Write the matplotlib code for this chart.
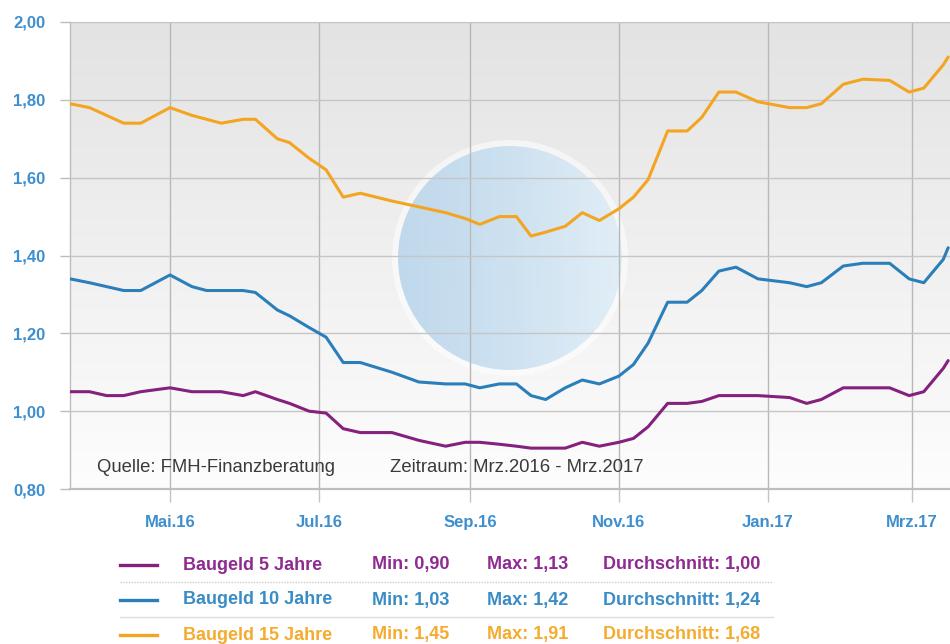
import matplotlib
matplotlib.use("Agg")
import matplotlib.pyplot as plt
import numpy as np
import pandas as pd
from matplotlib.patches import Ellipse
from matplotlib.lines import Line2D
from matplotlib.colors import LinearSegmentedColormap

# ---------------- data ----------------
dates = ["2016-03-21", "2016-03-29", "2016-04-05", "2016-04-12", "2016-04-19",
         "2016-05-01", "2016-05-10", "2016-05-16", "2016-05-22", "2016-05-31",
         "2016-06-05", "2016-06-14", "2016-06-19", "2016-06-27", "2016-07-04",
         "2016-07-11", "2016-07-18", "2016-07-31", "2016-08-11", "2016-08-22",
         "2016-08-30", "2016-09-05", "2016-09-13", "2016-09-20", "2016-09-26",
         "2016-10-02", "2016-10-10", "2016-10-17", "2016-10-24", "2016-11-01",
         "2016-11-07", "2016-11-13", "2016-11-21", "2016-11-29", "2016-12-05",
         "2016-12-12", "2016-12-19", "2016-12-28", "2017-01-10", "2017-01-17",
         "2017-01-23", "2017-02-01", "2017-02-09", "2017-02-20", "2017-02-28",
         "2017-03-06", "2017-03-14", "2017-03-16"]

baugeld_5 = [1.05, 1.05, 1.04, 1.04, 1.05, 1.06, 1.05, 1.05, 1.05, 1.04,
             1.05, 1.03, 1.02, 1.00, 0.995, 0.955, 0.945, 0.945, 0.925, 0.91,
             0.92, 0.92, 0.915, 0.91, 0.905, 0.905, 0.905, 0.92, 0.91, 0.92,
             0.93, 0.96, 1.02, 1.02, 1.025, 1.04, 1.04, 1.04, 1.035, 1.02,
             1.03, 1.06, 1.06, 1.06, 1.04, 1.05, 1.11, 1.13]

baugeld_10 = [1.34, 1.33, 1.32, 1.31, 1.31, 1.35, 1.32, 1.31, 1.31, 1.31,
              1.305, 1.26, 1.245, 1.215, 1.19, 1.125, 1.125, 1.10, 1.075, 1.07,
              1.07, 1.06, 1.07, 1.07, 1.04, 1.03, 1.06, 1.08, 1.07, 1.09,
              1.12, 1.175, 1.28, 1.28, 1.31, 1.36, 1.37, 1.34, 1.33, 1.32,
              1.33, 1.373, 1.38, 1.38, 1.34, 1.33, 1.39, 1.42]

baugeld_15 = [1.79, 1.78, 1.76, 1.74, 1.74, 1.78, 1.76, 1.75, 1.74, 1.75,
              1.75, 1.70, 1.69, 1.65, 1.62, 1.55, 1.56, 1.54, 1.525, 1.51,
              1.495, 1.48, 1.50, 1.50, 1.45, 1.46, 1.475, 1.51, 1.49, 1.52,
              1.55, 1.595, 1.72, 1.72, 1.755, 1.82, 1.82, 1.795, 1.78, 1.78,
              1.79, 1.84, 1.853, 1.85, 1.82, 1.83, 1.89, 1.91]

series_names = ["Baugeld 5 Jahre", "Baugeld 10 Jahre", "Baugeld 15 Jahre"]
min_vals = ["0,90", "1,03", "1,45"]
max_vals = ["1,13", "1,42", "1,91"]
avg_vals = ["1,00", "1,24", "1,68"]

tick_dates = ["2016-05-01", "2016-07-01", "2016-09-01", "2016-11-01",
              "2017-01-01", "2017-03-01"]
tick_labels = ["Mai.16", "Jul.16", "Sep.16", "Nov.16", "Jan.17", "Mrz.17"]
y_ticks = [0.80, 1.00, 1.20, 1.40, 1.60, 1.80, 2.00]

# ---------------- style ----------------
line_colors = ["#85207f", "#2a7fba", "#f3a521"]
text_colors = ["#8e2a91", "#3a8cc6", "#f5ab2e"]
tick_color = "#3d8fcf"
font = "Liberation Sans"

x = pd.to_datetime(dates)
series = [baugeld_5, baugeld_10, baugeld_15]

fig = plt.figure(figsize=(9.5, 6.44), dpi=100)
W, H = 950, 644
ax = fig.add_axes([70 / W, 1 - 489 / H, 880 / W, 467 / H])

# gradient background (darker at top)
grad = np.linspace(0, 1, 256).reshape(-1, 1)
cmap = LinearSegmentedColormap.from_list("bg", ["#e3e3e3", "#fdfdfd"])
ax.imshow(grad, extent=[0, 1, 0, 1], origin="upper", transform=ax.transAxes,
          cmap=cmap, aspect="auto", zorder=0)

# watermark logo circle (decoration)
cx, cy = (510 - 70) / 880, (489 - 258) / 467
halo = Ellipse((cx, cy), 236 / 880, 236 / 467, transform=ax.transAxes,
               facecolor="white", edgecolor="none", alpha=0.55, zorder=0.5)
ax.add_patch(halo)
circ = Ellipse((cx, cy), 224 / 880, 224 / 467, transform=ax.transAxes,
               facecolor="none", edgecolor="none", zorder=0.6)
ax.add_patch(circ)
hgrad = np.linspace(0, 1, 256).reshape(1, -1)
ccmap = LinearSegmentedColormap.from_list("logo", ["#b2d1e9", "#c3dcef", "#dcecf7"])
im = ax.imshow(hgrad, extent=[cx - 112 / 880, cx + 112 / 880, cy - 112 / 467, cy + 112 / 467],
               transform=ax.transAxes, cmap=ccmap, aspect="auto", zorder=0.7, alpha=0.8)
im.set_clip_path(circ)

for vals, c in zip(series, line_colors):
    ax.plot(x, vals, color=c, lw=2.2, zorder=3, solid_joinstyle="round",
            solid_capstyle="round")

ax.set_xlim(pd.Timestamp("2016-03-21"), pd.Timestamp("2017-03-16 18:00"))
ax.set_ylim(0.80, 2.00)

ax.set_yticks(y_ticks)
ax.set_yticklabels([f"{v:.2f}".replace(".", ",") for v in y_ticks])
ax.set_xticks(pd.to_datetime(tick_dates))
ax.set_xticklabels(tick_labels)

ax.grid(True, axis="y", color="#c6c6c6", lw=1.0, zorder=2)
ax.grid(True, axis="x", color="#b8b8b8", lw=1.0, zorder=2)
ax.set_axisbelow(False)
for gl in ax.get_xgridlines() + ax.get_ygridlines():
    gl.set_zorder(2)

ax.spines["right"].set_visible(False)
ax.spines["top"].set_color("#c8c8c8")
ax.spines["left"].set_color("#bdbdbd")
ax.spines["bottom"].set_color("#bdbdbd")
ax.spines["bottom"].set_linewidth(1.6)
ax.spines["left"].set_linewidth(1.0)

ax.tick_params(axis="y", length=7, width=1, color="#bdbdbd", pad=11,
               labelcolor=tick_color, labelsize=12)
ax.tick_params(axis="x", length=9, width=1, color="#c4c4c4", pad=10,
               labelcolor=tick_color, labelsize=12)
for lab in ax.get_xticklabels() + ax.get_yticklabels():
    lab.set_fontweight("bold")
    lab.set_fontfamily(font)

ax.text((97 - 70) / 880, (489 - 467) / 467, "Quelle: FMH-Finanzberatung",
        transform=ax.transAxes, fontsize=13.3, color="#3a3a3a", family=font,
        va="center", ha="left", zorder=4)
ax.text((390 - 70) / 880, (489 - 467) / 467, "Zeitraum: Mrz.2016 - Mrz.2017",
        transform=ax.transAxes, fontsize=13.3, color="#3a3a3a", family=font,
        va="center", ha="left", zorder=4)

# ---------------- legend table ----------------
row_y = [565, 600, 635]
for i in range(3):
    yf = 1 - row_y[i] / H
    fig.add_artist(Line2D([120 / W, 157 / W], [yf, yf], color=line_colors[i], lw=2.4))
    kw = dict(fontsize=13, fontweight="bold", color=text_colors[i], family=font,
              va="center", ha="left")
    fig.text(183 / W, yf, series_names[i], **kw)
    fig.text(372 / W, yf, f"Min: {min_vals[i]}", **kw)
    fig.text(487 / W, yf, f"Max: {max_vals[i]}", **kw)
    fig.text(603 / W, yf, f"Durchschnitt: {avg_vals[i]}", **kw)

fig.add_artist(Line2D([120 / W, 773 / W], [1 - 582 / H, 1 - 582 / H],
                      color="#cccccc", lw=1, ls=(0, (1, 1))))
fig.add_artist(Line2D([120 / W, 773 / W], [1 - 617 / H, 1 - 617 / H],
                      color="#dddddd", lw=1))

fig.savefig("out.png", dpi=100)
